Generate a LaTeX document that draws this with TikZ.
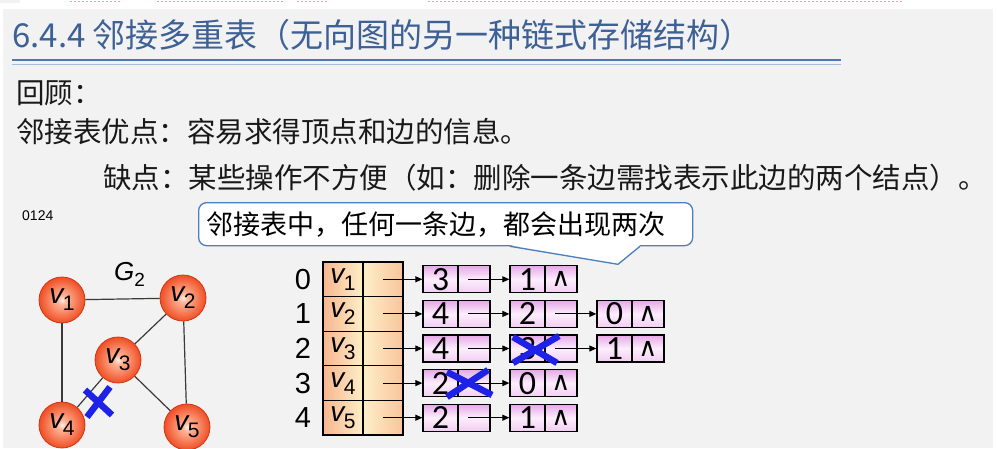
\documentclass[tikz,border=0pt]{standalone}
\usepackage{fontspec}
\setmainfont{Liberation Sans}
\newfontfamily\cjk{Noto Sans CJK SC}
\newfontfamily\calfont{Carlito}
\newfontfamily\dvfont{DejaVu Sans}
\usetikzlibrary{arrows.meta}
\definecolor{titleblue}{HTML}{3D6196}
\definecolor{rulea}{HTML}{4F78B0}
\definecolor{ruleb}{HTML}{A6BCDA}
\definecolor{callblue}{HTML}{4D7EBE}
\definecolor{bggray}{HTML}{F2F2F2}
\definecolor{edgegray}{HTML}{3A3A3A}
\definecolor{ballA}{HTML}{FFF0E8}
\definecolor{ballB}{HTML}{FFB496}
\definecolor{ballC}{HTML}{F0532A}
\definecolor{ballD}{HTML}{E63F18}
\definecolor{ballborder}{HTML}{D03612}
\definecolor{vorange}{HTML}{F7B68F}
\definecolor{vlight}{HTML}{FDEFC8}
\definecolor{vorangeb}{HTML}{F8C49C}
\definecolor{pinktop}{HTML}{E6A8E8}
\definecolor{pinkmid}{HTML}{FCEEFC}
\definecolor{pinkbot}{HTML}{F2CDF2}
\definecolor{xblue}{HTML}{1E22E6}
\definecolor{pinkdash}{HTML}{F4A0A0}
\pgfdeclareradialshading{ballshade}{\pgfpoint{0bp}{0bp}}{color(0bp)=(ballA); color(5bp)=(ballB); color(24bp)=(ballC); color(50bp)=(ballD)}
\newcommand\vlab[1]{{\itshape\fontsize{28}{28}\selectfont v}\kern-0.5pt\raisebox{-7pt}{\fontsize{21}{21}\selectfont #1}}
\newcommand\dig[1]{{\calfont\fontsize{34}{34}\selectfont #1}}
\tikzset{
  vtx/.style={circle, minimum size=46pt, inner sep=0pt, draw=ballborder, line width=0.8pt, shading=ballshade},
  gedge/.style={draw=edgegray, line width=1.2pt},
  vcella/.style={draw=black, line width=1.2pt, minimum width=40pt, minimum height=34.6pt, inner sep=0pt, left color=vorange, right color=vlight},
  vcellb/.style={draw=black, line width=1.2pt, minimum width=40pt, minimum height=34.6pt, inner sep=0pt, left color=vlight, right color=vorangeb},
  ecell/.style={draw=black, line width=1.3pt, minimum height=27pt, inner sep=0pt, top color=pinktop, bottom color=pinkbot, middle color=pinkmid},
  dcell/.style={ecell, minimum width=35pt},
  pcell/.style={ecell, minimum width=32pt},
  arr/.style={-{Triangle[length=7pt,width=6pt]}, line width=1.1pt, black},
  crossmark/.style={draw=xblue, line width=6.5pt},
  idx/.style={font=\fontsize{29}{29}\selectfont},
  callbox/.style={draw=callblue, line width=1.3pt, fill=white, rounded corners=8pt, minimum width=494pt, minimum height=43pt, text width=478pt, align=left, inner xsep=8pt, inner ysep=0pt},
}
\begin{document}
\begin{tikzpicture}[x=1pt,y=-1pt, every node/.append style={inner sep=0pt}]
% background
\useasboundingbox (0,0) rectangle (997,448);
\fill[white] (0,0) rectangle (997,448);
\fill[bggray] (3,9) rectangle (993,448);
\fill[bggray] (0,0) rectangle (20,3);
\foreach \a/\b in {70/122,157/284,297/327,428/902}
  \draw[pinkdash, line width=1.2pt, dash pattern=on 2pt off 2pt] (\a,1.5) -- (\b,1.5);
% title
\node[anchor=base west, text=titleblue] (title) at (12,47) {\cjk\fontsize{33}{33}\selectfont 6.4.4 邻接多重表（无向图的另一种链式存储结构）};
\draw[rulea, line width=2.4pt] (12,60) -- (841,60);
\draw[ruleb, line width=1.3pt] (12,64.5) -- (841,64.5);
% body text
\node[anchor=base west, text=black!90] (l1) at (16,103) {\cjk\fontsize{28.5}{28.5}\selectfont 回顾：};
\node[anchor=base west, text=black!90] (l2) at (16,142) {\cjk\fontsize{28.5}{28.5}\selectfont 邻接表优点：容易求得顶点和边的信息。};
\node[anchor=base west, text=black!90] (l3) at (103,188) {\cjk\fontsize{28.5}{28.5}\selectfont 缺点：某些操作不方便（如：删除一条边需找表示此边的两个结点）。};
\node[anchor=base west] (code) at (22,220) {\fontsize{14}{14}\selectfont 0124};
% callout
\node[callbox, anchor=north west] (cb) at (198,202) {\cjk\fontsize{27}{27}\selectfont 邻接表中，任何一条边，都会出现两次};
\coordinate (tl) at ([xshift=312pt]cb.south west);
\coordinate (tr) at ([xshift=442pt]cb.south west);
\coordinate (tip) at ([xshift=420pt,yshift=-18pt]cb.south west);
\fill[white] ([yshift=1.2pt]tl) -- (tip) -- ([yshift=1.2pt]tr) -- cycle;
\draw[callblue, line width=1.3pt, line join=round] (tl) -- (tip) -- (tr);
% graph G2
\node[anchor=base west] (g2) at (114,280) {\itshape\fontsize{26}{26}\selectfont G\raisebox{-6pt}{\upshape\fontsize{19}{19}\selectfont 2}};
\node[vtx] (v1) at (62,300) {\vlab{1}};
\node[vtx] (v2) at (183,298) {\vlab{2}};
\node[vtx] (v3) at (118,360) {\vlab{3}};
\node[vtx] (v4) at (62,425) {\vlab{4}};
\node[vtx] (v5) at (187,427) {\vlab{5}};
\draw[gedge] (v1) -- (v2);
\draw[gedge] (v1) -- (v4);
\draw[gedge] (v2) -- (v3);
\draw[gedge] (v2) -- (v5);
\draw[gedge] (v3) -- (v4);
\draw[gedge] (v3) -- (v5);
\draw[crossmark] (110,387) -- (87,417);
\draw[crossmark] (85,390) -- (112,415);
% vertex array
\foreach \r/\n in {0/1,1/2,2/3,3/4,4/5} {
  \node[idx] (i\r) at (303,{279.3+34.6*\r}) {\r};
  \node[vcella] (va\r) at (343,{279.3+34.6*\r}) {\vlab{\n}};
  \node[vcellb] (vb\r) at (383,{279.3+34.6*\r}) {};
}
% edge nodes
\foreach \r/\c/\d/\t in {0/0/3/p,0/1/1/n,1/0/4/p,1/1/2/p,1/2/0/n,2/0/4/p,2/1/3/p,2/2/1/n,3/0/2/p,3/1/0/n,4/0/2/p,4/1/1/n} {
  \node[dcell] (d\r\c) at ({440.5+87*\c},{279.3+34.6*\r}) {\dig{\d}};
  \node[pcell] (p\r\c) at ({474+87*\c},{279.3+34.6*\r}) {\if n\t{\dvfont\fontsize{26}{26}\selectfont ∧}\fi};
}
% arrows from vertex array
\foreach \r in {0,...,4}
  \draw[arr] (vb\r.center) -- (d\r0.west);
% arrows between edge nodes
\foreach \r/\c/\e in {0/0/1,1/0/1,1/1/2,2/0/1,2/1/2,3/0/1,4/0/1}
  \draw[arr] ([xshift=-6pt]p\r\c.center) -- (d\r\e.west);
% crosses in table
\draw[crossmark] (513,337) -- (557,363);
\draw[crossmark] (559,336) -- (513,363);
\draw[crossmark] (447,372) -- (492,395);
\draw[crossmark] (488,370) -- (447,397);
\end{tikzpicture}
\end{document}
